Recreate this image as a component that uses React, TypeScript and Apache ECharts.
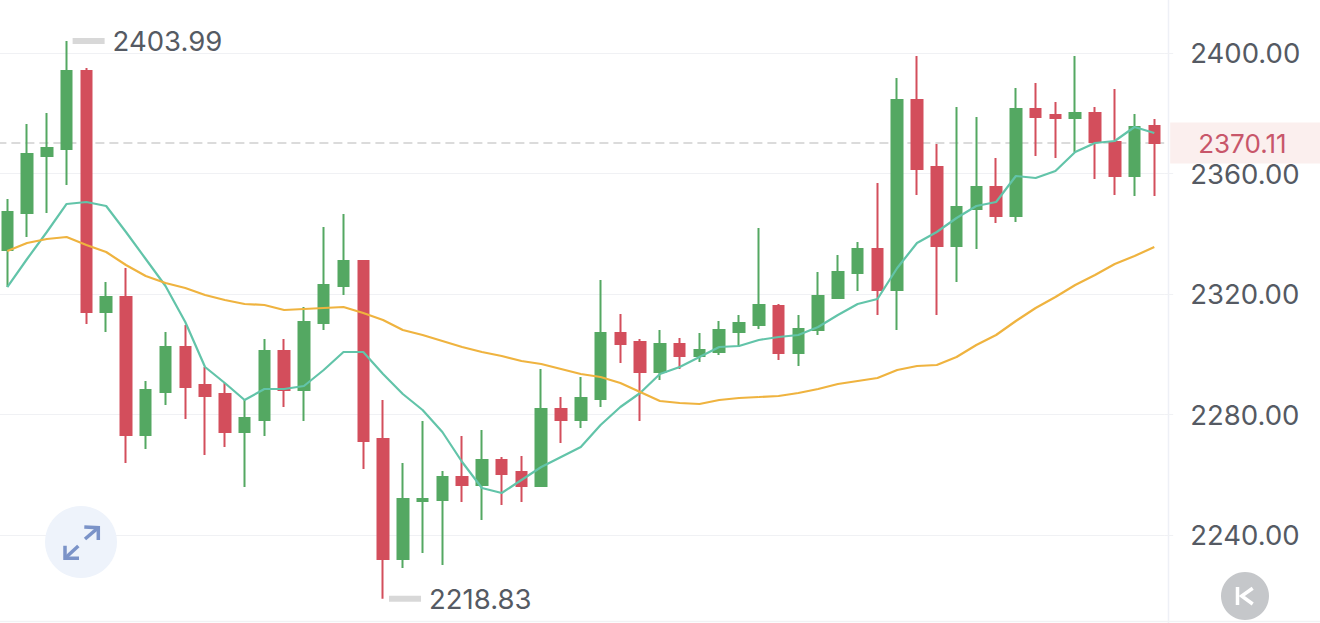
import React, { useEffect, useRef } from "react";
import * as echarts from "echarts";

const opens = [2334.61,2346.89,2365.81,2368.13,2394.02,2314.02,2319.0,2273.2,2287.47,2302.41,2289.79,2286.8,2274.19,2278.17,2301.08,2288.13,2310.37,2322.66,2330.95,2271.87,2232.03,2251.29,2251.62,2259.25,2256.6,2264.9,2260.91,2256.27,2281.83,2278.17,2285.15,2307.05,2304.07,2294.11,2303.4,2299.42,2300.75,2307.39,2309.71,2316.02,2300.41,2308.05,2318.67,2326.97,2334.94,2321.33,2384.4,2362.16,2335.93,2348.22,2355.52,2345.89,2381.41,2379.42,2378.42,2380.08,2370.46,2359.17,2375.77];
const closes = [2347.22,2366.47,2368.46,2394.02,2314.02,2319.0,2273.2,2288.13,2302.41,2289.13,2286.14,2274.19,2278.84,2301.08,2288.13,2310.7,2322.99,2330.95,2271.2,2232.03,2251.95,2251.95,2259.25,2256.6,2264.9,2260.25,2256.27,2281.83,2278.17,2285.48,2307.05,2303.4,2294.11,2303.4,2299.42,2301.41,2308.05,2310.37,2316.35,2300.41,2308.38,2319.34,2327.3,2334.94,2321.33,2384.4,2361.49,2335.93,2348.88,2355.52,2345.89,2381.41,2378.76,2378.42,2380.08,2370.46,2359.17,2375.44,2370.11];
const lows = [2322.32,2338.92,2346.89,2356.18,2310.04,2307.39,2263.9,2268.55,2283.15,2278.51,2266.56,2269.21,2255.93,2272.86,2282.49,2277.84,2308.05,2319.67,2261.91,2218.83,2229.05,2234.02,2230.04,2250.95,2244.98,2249.96,2250.95,2256.27,2270.54,2275.52,2282.49,2297.1,2277.84,2291.45,2295.1,2297.43,2299.75,2302.41,2308.38,2298.09,2296.1,2306.39,2318.67,2321.0,2313.03,2308.05,2352.86,2313.03,2323.98,2334.94,2343.57,2343.9,2365.81,2365.15,2367.14,2358.17,2352.86,2352.53,2352.53];
const highs = [2351.54,2376.43,2380.08,2403.99,2395.02,2323.98,2328.63,2291.12,2307.39,2309.71,2295.77,2290.46,2284.81,2305.06,2305.06,2315.68,2342.24,2346.56,2330.95,2284.81,2263.9,2277.84,2261.24,2272.86,2274.85,2265.89,2266.22,2295.1,2285.81,2292.45,2324.65,2313.36,2305.06,2308.05,2305.39,2307.05,2311.04,2313.03,2341.91,2316.68,2313.03,2327.3,2332.95,2337.26,2356.85,2391.7,2399.0,2369.79,2382.07,2378.76,2365.15,2388.38,2390.04,2383.73,2399.0,2382.07,2388.05,2379.75,2378.09];
const ma5 = [2322.32,2331.62,2340.58,2349.88,2350.54,2349.21,2340.58,2331.62,2322.66,2310.7,2295.77,2290.46,2284.81,2288.46,2288.46,2289.46,2294.77,2300.75,2300.75,2293.44,2286.8,2281.49,2274.19,2264.23,2255.6,2253.94,2258.26,2262.57,2265.89,2269.21,2276.51,2282.49,2287.14,2293.44,2295.77,2299.09,2302.41,2302.74,2304.73,2305.73,2306.39,2309.05,2313.03,2316.68,2318.34,2328.63,2336.93,2340.58,2345.23,2349.21,2350.54,2359.17,2358.51,2360.83,2367.14,2370.12,2370.79,2375.44,2373.44];
const ma30 = [2334.27,2336.93,2338.26,2338.92,2336.27,2333.94,2329.63,2325.98,2323.65,2321.99,2319.67,2318.01,2316.68,2316.35,2314.69,2315.02,2315.35,2315.68,2313.69,2311.37,2308.05,2306.39,2304.4,2302.41,2300.75,2299.42,2297.76,2296.76,2295.1,2293.44,2292.45,2290.46,2287.47,2284.48,2283.82,2283.49,2284.81,2285.48,2285.81,2286.14,2287.14,2288.46,2290.12,2291.12,2292.12,2294.77,2296.1,2296.43,2299.09,2303.07,2306.39,2311.04,2315.35,2319.0,2322.99,2326.31,2329.96,2332.61,2335.6];
const categories = opens.map((_, i) => String(i + 1));
const lastPrice = 2370.11;
const highestIndex = 3;
const highestPrice = 2403.99;
const lowestIndex = 19;
const lowestPrice = 2218.83;

const GREEN = "#54a862";
const RED = "#d34e5c";
const TEXT = "#555a63";
const FONT = "Inter";
const FONT_SIZE = 27.5;
// The chart's div is larger than the page and shifted, so that the plot area can run past the page's edges.
const OX = 10;
const OY = 68;

export default function App() {
  const ref = useRef<HTMLDivElement>(null);
  useEffect(() => {
    const chart = echarts.init(ref.current!, undefined, { renderer: "svg" });
    const extremeLabel = {
      show: true,
      position: "right" as const,
      distance: 8,
      color: TEXT,
      fontFamily: FONT,
      fontSize: FONT_SIZE,
      formatter: (p: any) => p.value.toFixed(2),
    };
    chart.setOption({
      animation: false,
      grid: { left: OX - 2.6, top: OY - 67.5, width: 1166.8, height: 723, containLabel: false },
      xAxis: { type: "category", data: categories, show: false, boundaryGap: true },
      yAxis: {
        type: "value",
        position: "right",
        min: 2200,
        max: 2440,
        interval: 40,
        axisLine: { show: false },
        axisTick: { show: true, length: 9, lineStyle: { color: "#f0f1f4", width: 1 } },
        splitLine: { show: true, lineStyle: { color: "#f0f1f4", width: 1 } },
        axisLabel: {
          margin: 26,
          color: TEXT,
          fontFamily: FONT,
          fontSize: FONT_SIZE,
          formatter: (v: number) => (v === 2200 || v === 2440 ? "" : v.toFixed(2)),
        },
      },
      series: [
        {
          type: "candlestick",
          data: opens.map((o, i) => [o, closes[i], lows[i], highs[i]]),
          barWidth: 11,
          itemStyle: { color: GREEN, color0: RED, borderColor: GREEN, borderColor0: RED, borderWidth: 2 },
          markLine: {
            silent: true,
            symbol: "none",
            z: 1,
            lineStyle: { type: [9, 5], color: "#cfcfcf", width: 1.5 },
            label: {
              show: true,
              position: "end",
              distance: 6,
              formatter: () => lastPrice.toFixed(2),
              color: "#c8566a",
              fontFamily: FONT,
              fontSize: 26,
              backgroundColor: "#fbefee",
              width: 122,
              height: 41,
              lineHeight: 41,
              padding: [0, 0, 0, 28],
              align: "left",
            },
            data: [{ yAxis: lastPrice }],
          },
          markPoint: {
            silent: true,
            symbol: "rect",
            symbolSize: [32, 6],
            symbolOffset: [22, 0],
            itemStyle: { color: "#d8d8d8" },
            label: extremeLabel,
            data: [
              { coord: [categories[highestIndex], highestPrice], value: highestPrice },
              { coord: [categories[lowestIndex], lowestPrice], value: lowestPrice },
            ],
          },
        },
        { type: "line", data: ma5, symbol: "none", lineStyle: { color: "#62c4a9", width: 2.2 } },
        { type: "line", data: ma30, symbol: "none", lineStyle: { color: "#efb33f", width: 2.2 } },
      ],
      graphic: [
        {
          type: "group",
          x: OX,
          y: OY,
          silent: true,
          children: [
            { type: "line", z: 0, shape: { x1: 1168.5, y1: 0, x2: 1168.5, y2: 623 }, style: { stroke: "#eef0f6", lineWidth: 1.5 } },
            { type: "line", z: 0, shape: { x1: 0, y1: 621.5, x2: 1320, y2: 621.5 }, style: { stroke: "#f1f2f4", lineWidth: 1.5 } },
            { type: "circle", z: 10, shape: { cx: 81, cy: 542, r: 36 }, style: { fill: "#eef3fb" } },
            { type: "polyline", z: 11, shape: { points: [[84.3, 526.9], [98.3, 527.7], [98.3, 540]] }, style: { stroke: "#7b93c8", lineWidth: 3.5, fill: "none" } },
            { type: "line", z: 11, shape: { x1: 98.3, y1: 527.7, x2: 85, y2: 539 }, style: { stroke: "#7b93c8", lineWidth: 3.5 } },
            { type: "polyline", z: 11, shape: { points: [[65, 545.7], [65, 558.3], [79, 558.3]] }, style: { stroke: "#7b93c8", lineWidth: 3.5, fill: "none" } },
            { type: "line", z: 11, shape: { x1: 65, y1: 558.3, x2: 78.3, y2: 546 }, style: { stroke: "#7b93c8", lineWidth: 3.5 } },
            { type: "circle", z: 10, shape: { cx: 1245, cy: 596, r: 24 }, style: { fill: "#c5c7ca" } },
            { type: "line", z: 11, shape: { x1: 1237.5, y1: 587, x2: 1237.5, y2: 605 }, style: { stroke: "#ffffff", lineWidth: 3.5 } },
            { type: "polyline", z: 11, shape: { points: [[1252.7, 588.3], [1241.7, 596], [1252.7, 604]] }, style: { stroke: "#ffffff", lineWidth: 3.5, fill: "none" } },
          ],
        },
      ],
    });
    return () => chart.dispose();
  }, []);
  return (
    <div style={{ position: "absolute", left: 0, top: 0, width: 1320, height: 623, background: "#ffffff", overflow: "hidden" }}>
      <div ref={ref} style={{ position: "absolute", left: -OX, top: -OY, width: 1340, height: 760 }} />
    </div>
  );
}
